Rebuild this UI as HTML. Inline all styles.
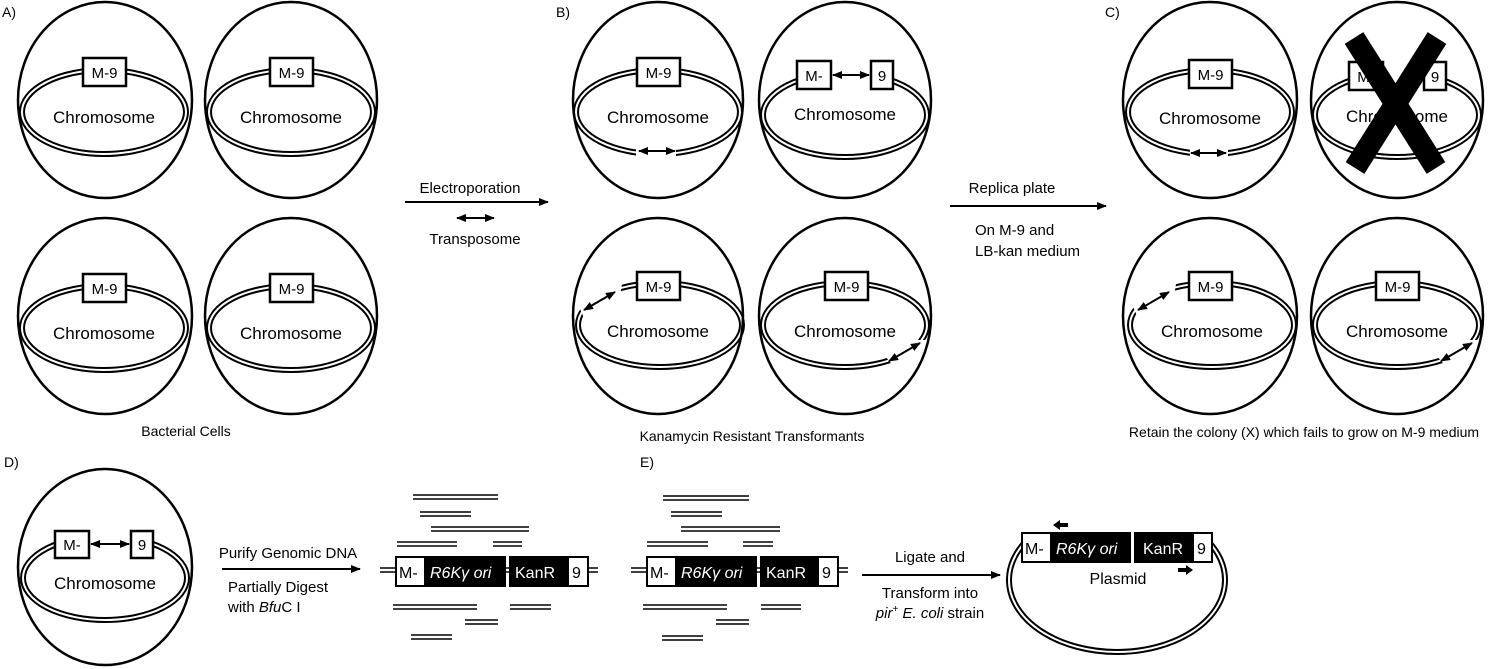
<!DOCTYPE html>
<html><head><meta charset="utf-8"><style>
body{margin:0;background:#fff}
svg{display:block}
text{font-family:"Liberation Sans",Arial,sans-serif;fill:#000}
</style></head><body>
<svg width="1500" height="669" viewBox="0 0 1500 669" xmlns="http://www.w3.org/2000/svg">
<defs>
<marker id="ah" viewBox="0 0 10 10" refX="9" refY="5" markerWidth="5" markerHeight="5" orient="auto-start-reverse"><path d="M0,1 L10,5 L0,9 z" fill="#000"/></marker>
<g id="chr">
<ellipse cx="0" cy="0" rx="82" ry="42" fill="none" stroke="#000" stroke-width="6"/>
<ellipse cx="0" cy="0" rx="82" ry="42" fill="none" stroke="#fff" stroke-width="2"/>
</g>
</defs>
<use href="#chr" x="104" y="112"/>
<use href="#chr" x="291" y="112"/>
<use href="#chr" x="104" y="328"/>
<use href="#chr" x="291" y="328"/>
<use href="#chr" x="658" y="112"/>
<use href="#chr" x="845" y="115"/>
<use href="#chr" x="660" y="325"/>
<use href="#chr" x="845" y="325"/>
<use href="#chr" x="1210" y="112"/>
<use href="#chr" x="1397" y="115"/>
<use href="#chr" x="1212" y="325"/>
<use href="#chr" x="1397" y="325"/>
<use href="#chr" x="105" y="578"/>
<g fill="#fff">
<rect x="636" y="145" width="40" height="14"/>
<rect x="1190" y="145" width="38" height="14"/>
<polygon points="576,300 590,284 622,284 620,296 584,318"/>
<polygon points="1130,300 1144,284 1176,284 1174,296 1138,318"/>
<polygon points="885,356 912,340 930,340 928,352 895,368"/>
<polygon points="1437,356 1464,340 1482,340 1480,352 1447,368"/>
<rect x="832" y="66" width="38" height="18"/>
<rect x="1384" y="66" width="39" height="18"/>
<rect x="90" y="530" width="40" height="18"/>
</g>
<g stroke="#000" stroke-width="2.5" fill="none">
<ellipse cx="105" cy="100" rx="87" ry="98"/>
<ellipse cx="291" cy="100" rx="86" ry="98"/>
<ellipse cx="105" cy="316" rx="87" ry="98"/>
<ellipse cx="291" cy="316" rx="86" ry="98"/>
<ellipse cx="658" cy="100" rx="85" ry="98"/>
<ellipse cx="845" cy="100" rx="86" ry="98"/>
<ellipse cx="658" cy="316" rx="85" ry="98"/>
<ellipse cx="845" cy="316" rx="86" ry="98"/>
<ellipse cx="1210" cy="100" rx="87" ry="98"/>
<ellipse cx="1397" cy="100" rx="86" ry="98"/>
<ellipse cx="1210" cy="316" rx="87" ry="98"/>
<ellipse cx="1397" cy="316" rx="86" ry="98"/>
<ellipse cx="105" cy="567" rx="87" ry="98"/>
</g>
<g stroke="#000" stroke-width="2" marker-start="url(#ah)" marker-end="url(#ah)">
<line x1="639" y1="151" x2="675" y2="151"/>
<line x1="1191" y1="153" x2="1226" y2="153"/>
<line x1="584" y1="310" x2="615" y2="292"/>
<line x1="1138" y1="310" x2="1169" y2="292"/>
<line x1="889" y1="361" x2="920" y2="343"/>
<line x1="1441" y1="361" x2="1472" y2="343"/>
<line x1="833" y1="75" x2="869" y2="75"/>
<line x1="91" y1="544" x2="129" y2="544"/>
<line x1="457" y1="218" x2="494" y2="218"/>
</g>
<g fill="#fff" stroke="#000" stroke-width="2.5">
<rect x="83" y="58" width="43" height="28"/><rect x="270" y="58" width="43" height="28"/>
<rect x="83" y="274" width="43" height="28"/><rect x="270" y="274" width="43" height="28"/>
<rect x="637" y="58" width="43" height="28"/>
<rect x="797" y="61" width="34" height="28"/><rect x="871" y="61" width="22" height="28"/>
<rect x="637" y="272" width="43" height="28"/><rect x="825" y="272" width="43" height="28"/>
<rect x="1189" y="60" width="43" height="28"/>
<rect x="1349" y="62" width="34" height="28"/><rect x="1424" y="62" width="22" height="28"/>
<rect x="1189" y="272" width="43" height="28"/><rect x="1376" y="272" width="43" height="28"/>
<rect x="55" y="531" width="34" height="27"/><rect x="131" y="531" width="22" height="27"/>
</g>
<g font-size="15" text-anchor="middle">
<text x="104.5" y="78">M-9</text><text x="291.5" y="78">M-9</text>
<text x="104.5" y="294">M-9</text><text x="291.5" y="294">M-9</text>
<text x="658.5" y="78">M-9</text>
<text x="814" y="81">M-</text><text x="882" y="81">9</text>
<text x="658.5" y="292">M-9</text><text x="846.5" y="292">M-9</text>
<text x="1210.5" y="80">M-9</text>
<text x="1366" y="82">M-</text><text x="1435" y="82">9</text>
<text x="1210.5" y="292">M-9</text><text x="1397.5" y="292">M-9</text>
<text x="72" y="550">M-</text><text x="142" y="550">9</text>
</g>
<g font-size="17" text-anchor="middle">
<text x="104" y="123">Chromosome</text><text x="291" y="123">Chromosome</text>
<text x="104" y="339">Chromosome</text><text x="291" y="339">Chromosome</text>
<text x="658" y="123">Chromosome</text><text x="845" y="120">Chromosome</text>
<text x="658" y="337">Chromosome</text><text x="845" y="337">Chromosome</text>
<text x="1210" y="124">Chromosome</text><text x="1397" y="122">Chromosome</text>
<text x="1212" y="337">Chromosome</text><text x="1397" y="337">Chromosome</text>
<text x="105" y="589">Chromosome</text>
</g>
<g stroke="#000" stroke-width="22" stroke-linecap="butt">
<line x1="1354" y1="38" x2="1436" y2="168"/>
<line x1="1437" y1="38" x2="1355" y2="168"/>
</g>
<g font-size="14">
<text x="2" y="17">A)</text><text x="556" y="17">B)</text><text x="1105" y="17">C)</text>
<text x="4" y="467">D)</text><text x="640" y="467">E)</text>
<text x="186" y="436" text-anchor="middle">Bacterial Cells</text>
<text x="752" y="441" text-anchor="middle">Kanamycin Resistant Transformants</text>
<text x="1304" y="437" text-anchor="middle">Retain the colony (X) which fails to grow on M-9 medium</text>
</g>
<g stroke="#000" stroke-width="2" marker-end="url(#ah)">
<line x1="405" y1="202" x2="548" y2="202"/>
<line x1="950" y1="206" x2="1106" y2="206"/>
<line x1="222" y1="569" x2="360" y2="569"/>
<line x1="862" y1="575" x2="1000" y2="575"/>
</g>
<g font-size="15">
<text x="470" y="193" text-anchor="middle">Electroporation</text>
<text x="475" y="244" text-anchor="middle">Transposome</text>
<text x="1012" y="193" text-anchor="middle">Replica plate</text>
<text x="975" y="235">On M-9 and</text>
<text x="975" y="256">LB-kan medium</text>
<text x="288" y="558" text-anchor="middle">Purify Genomic DNA</text>
<text x="228" y="592">Partially Digest</text>
<text x="228" y="612">with <tspan font-style="italic">Bfu</tspan>C I</text>
<text x="930" y="562" text-anchor="middle">Ligate and</text>
<text x="930" y="598" text-anchor="middle">Transform into</text>
<text x="930" y="618" text-anchor="middle"><tspan font-style="italic">pir</tspan><tspan font-size="10" dy="-6">+</tspan><tspan dy="6" font-style="italic"> E. coli</tspan> strain</text>
</g>
<g stroke="#000" stroke-width="1.6">
<path d="M413,495h85M413,499h85 M420,512h51M420,516h51 M431,527h98M431,531h98 M397,542h60M397,546h60 M493,542h29M493,546h29
M393,605h84M393,609h84 M510,605h41M510,609h41 M465,620h33M465,624h33 M411,635h41M411,639h41
M380,568h16M380,572h16 M505,568h5M505,572h5 M588,568h10M588,572h10
M663,496h86M663,500h86 M671,512h51M671,516h51 M681,527h99M681,531h99 M647,542h61M647,546h61 M743,542h30M743,546h30
M643,605h84M643,609h84 M761,605h40M761,609h40 M716,620h33M716,624h33 M662,636h41M662,640h41
M631,568h16M631,572h16 M756,568h5M756,572h5 M838,568h10M838,572h10"/>
</g>
<ellipse cx="1117" cy="580" rx="108" ry="72" fill="none" stroke="#000" stroke-width="6"/>
<ellipse cx="1117" cy="580" rx="108" ry="72" fill="none" stroke="#fff" stroke-width="2"/>
<rect x="1022" y="500" width="190" height="50" fill="#fff"/>
<g stroke="#000" stroke-width="2">
<rect x="396" y="557" width="109" height="29" fill="#000"/><rect x="397" y="558" width="27" height="27" fill="#fff" stroke="none"/>
<rect x="510" y="557" width="78" height="29" fill="#000"/><rect x="569" y="558" width="18" height="27" fill="#fff" stroke="none"/>
<rect x="647" y="557" width="109" height="29" fill="#000"/><rect x="648" y="558" width="27" height="27" fill="#fff" stroke="none"/>
<rect x="761" y="557" width="77" height="29" fill="#000"/><rect x="819" y="558" width="18" height="27" fill="#fff" stroke="none"/>
<rect x="1022" y="533" width="108" height="29" fill="#000"/><rect x="1023" y="534" width="27" height="27" fill="#fff" stroke="none"/>
<rect x="1135" y="533" width="77" height="29" fill="#000"/><rect x="1194" y="534" width="17" height="27" fill="#fff" stroke="none"/>
</g>
<g font-size="16">
<text x="399" y="578">M-</text><text x="430" y="578" style="fill:#fff;font-style:italic">R6Kγ ori</text>
<text x="515" y="578" style="fill:#fff">KanR</text><text x="572" y="578">9</text>
<text x="650" y="578">M-</text><text x="681" y="578" style="fill:#fff;font-style:italic">R6Kγ ori</text>
<text x="766" y="578" style="fill:#fff">KanR</text><text x="822" y="578">9</text>
<text x="1025" y="554">M-</text><text x="1056" y="554" style="fill:#fff;font-style:italic">R6Kγ ori</text>
<text x="1143" y="554" style="fill:#fff">KanR</text><text x="1197" y="554">9</text>
<text x="1118" y="584" text-anchor="middle">Plasmid</text>
</g>
<path d="M1053,525 l7,-5 v3 h8 v4 h-8 v3 z" fill="#000"/>
<path d="M1193,570 l-7,-5 v3 h-8 v4 h8 v3 z" fill="#000"/>
</svg>
</body></html>
